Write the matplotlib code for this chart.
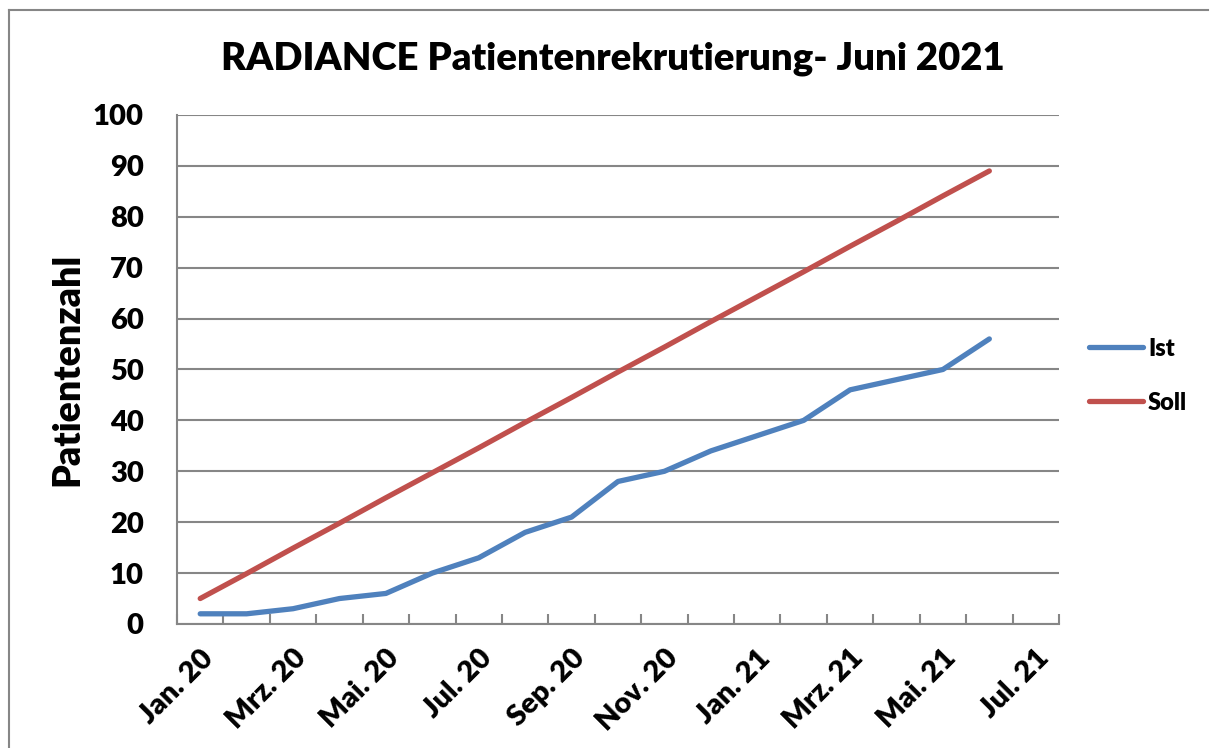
import matplotlib
matplotlib.use("Agg")
import matplotlib.pyplot as plt
from matplotlib.lines import Line2D

months = ["Jan. 20", "Feb. 20", "Mrz. 20", "Apr. 20", "Mai. 20", "Jun. 20",
          "Jul. 20", "Aug. 20", "Sep. 20", "Okt. 20", "Nov. 20", "Dez. 20",
          "Jan. 21", "Feb. 21", "Mrz. 21", "Apr. 21", "Mai. 21", "Jun. 21",
          "Jul. 21"]
ist = [2, 2, 3, 5, 6, 10, 13, 18, 21, 28, 30, 34, 37, 40, 46, 48, 50, 56]
soll = [5.0, 9.9, 14.9, 19.8, 24.8, 29.7, 34.6, 39.6, 44.5, 49.5, 54.4,
        59.4, 64.3, 69.2, 74.2, 79.1, 84.1, 89.0]

blue = "#4F81BD"
red = "#C0504D"
grid = "#868686"

plt.rcParams['font.family'] = ['Lato', 'DejaVu Sans']
plt.rcParams['font.weight'] = 'bold'

fig = plt.figure(figsize=(12.14, 7.48), dpi=100)
ax = fig.add_axes([0.1458, 0.1658, 0.8723 - 0.1458, 0.8463 - 0.1658])

x = list(range(len(ist)))
ax.plot(x, ist, color=blue, lw=3.8, solid_capstyle='round', label="Ist")
ax.plot(x, soll, color=red, lw=3.8, solid_capstyle='round', label="Soll")

ax.set_xlim(-0.5, len(months) - 0.5)
ax.set_ylim(0, 100)
ax.set_yticks(range(0, 101, 10))
ax.tick_params(axis='y', length=0, labelsize=21, pad=24)
for t in ax.get_yticklabels():
    t.set_fontweight('heavy')
ax.yaxis.grid(True, color=grid, lw=1.5)
ax.set_axisbelow(True)

# tick marks between categories, labels on every other month
ax.set_xticks([i - 0.5 for i in range(len(months) + 1)], minor=False)
ax.set_xticklabels([])
ax.tick_params(axis='x', which='major', direction='in', length=7, color=grid, width=1.5)
ax.set_xticks(range(0, len(months), 2), minor=True)
ax.set_xticklabels(months[::2], minor=True, rotation=45, ha='right',
                   rotation_mode='anchor', fontsize=21, fontweight='heavy')
ax.tick_params(axis='x', which='minor', length=0, pad=15)

for s in ['top', 'right']:
    ax.spines[s].set_visible(False)
for s in ['left', 'bottom']:
    ax.spines[s].set_color(grid)
    ax.spines[s].set_linewidth(1.5)

ax.set_ylabel("Patientenzahl", fontsize=27, fontweight='heavy', labelpad=6)
fig.suptitle("RADIANCE Patientenrekrutierung- Juni 2021", fontsize=27.5,
             fontweight='heavy', x=0.505, y=0.945)

leg = ax.legend(loc='center left', bbox_to_anchor=(1.01, 0.488), frameon=False,
                fontsize=17, handlelength=2.3, labelspacing=1.35, handletextpad=0.2)
for t in leg.get_texts():
    t.set_fontweight('heavy')

# outer chart frame (left and top edges)
fig.add_artist(Line2D([0.0075, 0.0075], [0.0, 0.987], color=grid, lw=1.5))
fig.add_artist(Line2D([0.0075, 0.995], [0.987, 0.987], color=grid, lw=1.5))

fig.savefig("out.png", dpi=100)
